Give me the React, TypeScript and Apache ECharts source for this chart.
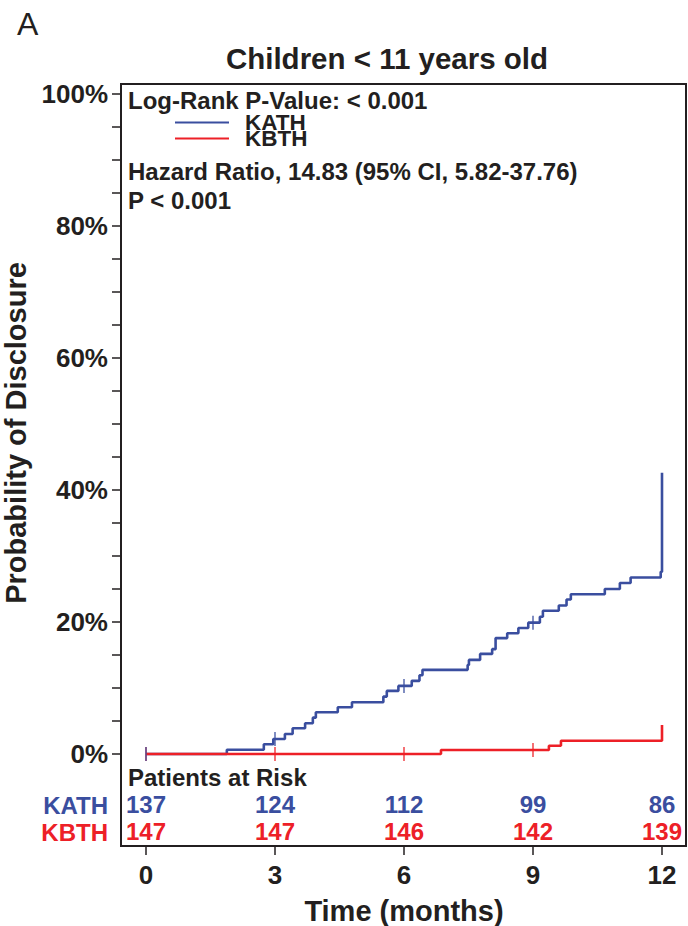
import React, { useEffect, useRef } from 'react';
import * as echarts from 'echarts';

const FONT = "'Liberation Sans', Arial, Helvetica, sans-serif";
const TEXT = '#231F20';
const BLUE = '#3A4E9F';
const RED = '#ED2027';

// Kaplan-Meier step curves (time in months, cumulative probability in %)
const kathTimes = [0, 1.88, 2.74, 2.96, 3.23, 3.41, 3.7, 3.88, 3.95, 4.46, 4.79, 5.52, 5.6, 5.87, 6.18, 6.36, 6.43, 7.48, 7.51, 7.77, 8.05, 8.13, 8.4, 8.66, 8.89, 9.16, 9.23, 9.6, 9.78, 9.88, 10.67, 11.02, 11.27, 11.97, 12.0];
const kathProb = [0, 0.65, 1.47, 2.28, 3.03, 3.9, 4.65, 5.51, 6.33, 7.09, 7.85, 8.7, 9.56, 10.32, 11.08, 11.94, 12.75, 13.5, 14.26, 15.17, 15.89, 17.56, 18.3, 19.1, 19.9, 20.8, 21.7, 22.5, 23.4, 24.2, 25.0, 25.9, 26.75, 27.6, 42.6];
const kbthTimes = [0, 6.86, 9.37, 9.65, 12.0];
const kbthProb = [0, 0.6, 1.26, 2.0, 4.4];

const kathCensor = [0, 3, 6, 9];
const kbthCensor = [0, 3, 6, 9];

// Patients at risk table
const riskMonths = [0, 3, 6, 9, 12];
const kathAtRisk = [137, 124, 112, 99, 86];
const kbthAtRisk = [147, 147, 146, 142, 139];

const xTicks = [0, 3, 6, 9, 12];
const yTickLabels = [0, 20, 40, 60, 80, 100];

function valueAt(times: number[], probs: number[], t: number) {
  let v = probs[0];
  for (let i = 0; i < times.length; i++) if (times[i] <= t) v = probs[i];
  return v;
}

const KATH_ROW = -7.7;
const KBTH_ROW = -11.8;

export default function App() {
  const ref = useRef<HTMLDivElement>(null);
  useEffect(() => {
    if (!ref.current) return;
    const chart = echarts.init(ref.current, undefined, { renderer: 'svg' });
    const bold = (size: number, color = TEXT) => ({
      fontFamily: FONT,
      fontWeight: 'bold' as const,
      fontSize: size,
      color,
    });
    const gText = (text: string, x: number, y: number, size: number, color = TEXT, align = 'left', weight = 'bold') => ({
      type: 'text',
      x,
      y,
      silent: true,
      style: {
        text,
        fill: color,
        fontFamily: FONT,
        fontWeight: weight,
        fontSize: size,
        align,
        verticalAlign: 'middle',
      },
    });
    const riskLabel = (color: string) => ({
      show: true,
      position: 'inside',
      formatter: (p: any) => String(p.data[2]),
      ...bold(24, color),
      textBorderWidth: 0,
      textBorderColor: 'transparent',
      opacity: 1,
    });
    chart.setOption({
      animation: false,
      backgroundColor: '#ffffff',
      title: {
        text: 'Children < 11 years old',
        left: 382,
        top: 38,
        textAlign: 'center',
        textStyle: bold(29.5),
      },
      legend: {
        data: ['KATH', 'KBTH'],
        orient: 'vertical',
        left: 175,
        top: 111,
        icon: 'rect',
        itemWidth: 54,
        itemHeight: 2,
        itemGap: -7,
        padding: 0,
        textStyle: { ...bold(22.5), lineHeight: 17, padding: [0, 0, 0, 11] },
        selectedMode: false,
      },
      grid: { left: 146, right: 26, top: 94, bottom: 172, outerBoundsMode: 'none', containLabel: false },
      xAxis: {
        type: 'value',
        min: 0,
        max: 12,
        interval: 3,
        offset: 92,
        axisLine: { show: false, onZero: false },
        axisTick: { show: true, length: 9, lineStyle: { color: TEXT, width: 1.5 } },
        axisLabel: { ...bold(26), margin: 16, formatter: (v: number) => (xTicks.includes(v) ? String(v) : '') },
        splitLine: { show: false },
        name: 'Time (months)',
        nameLocation: 'middle',
        nameGap: 50,
        nameTextStyle: bold(29),
      },
      yAxis: {
        type: 'value',
        min: 0,
        max: 100,
        interval: 5,
        offset: 25,
        axisLine: { show: false, onZero: false },
        axisTick: { show: true, length: 9, lineStyle: { color: TEXT, width: 1.5 } },
        axisLabel: {
          ...bold(26),
          margin: 13,
          formatter: (v: number) => (yTickLabels.includes(v) ? v + '%' : ''),
        },
        splitLine: { show: false },
        name: 'Probability of Disclosure',
        nameLocation: 'middle',
        nameGap: 77,
        nameTextStyle: { ...bold(29), padding: [0, 18, 0, 0] },
      },
      series: [
        {
          name: 'KATH',
          type: 'line',
          step: 'end',
          showSymbol: false,
          symbol: 'none',
          clip: false,
          color: BLUE,
          lineStyle: { color: BLUE, width: 2.6 },
          data: kathTimes.map((t, i) => [t, kathProb[i]]),
          z: 2,
        },
        {
          name: 'KBTH',
          type: 'line',
          step: 'end',
          showSymbol: false,
          symbol: 'none',
          clip: false,
          color: RED,
          lineStyle: { color: RED, width: 2.6 },
          data: kbthTimes.map((t, i) => [t, kbthProb[i]]),
          z: 3,
        },
        {
          name: 'KBTH censored',
          type: 'scatter',
          symbol: 'rect',
          symbolSize: [1.6, 14],
          clip: false,
          itemStyle: { color: RED },
          data: kbthCensor.map((t) => [t, valueAt(kbthTimes, kbthProb, t)]),
          z: 4,
        },
        {
          name: 'KATH censored',
          type: 'scatter',
          symbol: 'rect',
          symbolSize: [1.6, 14],
          clip: false,
          itemStyle: { color: BLUE },
          data: kathCensor.map((t) => [t, valueAt(kathTimes, kathProb, t)]),
          z: 5,
        },
        {
          name: 'KATH at risk',
          type: 'scatter',
          symbolSize: 1,
          clip: false,
          itemStyle: { color: '#ffffff', opacity: 0 },
          label: riskLabel(BLUE),
          data: riskMonths.map((m, i) => [m, KATH_ROW, kathAtRisk[i]]),
        },
        {
          name: 'KBTH at risk',
          type: 'scatter',
          symbolSize: 1,
          clip: false,
          itemStyle: { color: '#ffffff', opacity: 0 },
          label: riskLabel(RED),
          data: riskMonths.map((m, i) => [m, KBTH_ROW, kbthAtRisk[i]]),
        },
      ],
      graphic: [
        {
          type: 'rect',
          silent: true,
          shape: { x: 121, y: 84, width: 565, height: 762 },
          style: { fill: 'none', stroke: TEXT, lineWidth: 2 },
          z: 10,
        },
        gText('A', 17, 24, 32, TEXT, 'left', 'normal'),
        gText('Log-Rank P-Value: < 0.001', 128, 100, 24),
        gText('Hazard Ratio, 14.83 (95% CI, 5.82-37.76)', 128, 171, 24),
        gText('P < 0.001', 128, 200, 24),
        gText('Patients at Risk', 128, 777, 24),
        gText('KATH', 108, 805, 24, BLUE, 'right'),
        gText('KBTH', 108, 832, 24, RED, 'right'),
      ],
    });
    return () => chart.dispose();
  }, []);
  return <div ref={ref} style={{ position: 'fixed', left: 0, top: 0, width: 688, height: 926 }} />;
}
